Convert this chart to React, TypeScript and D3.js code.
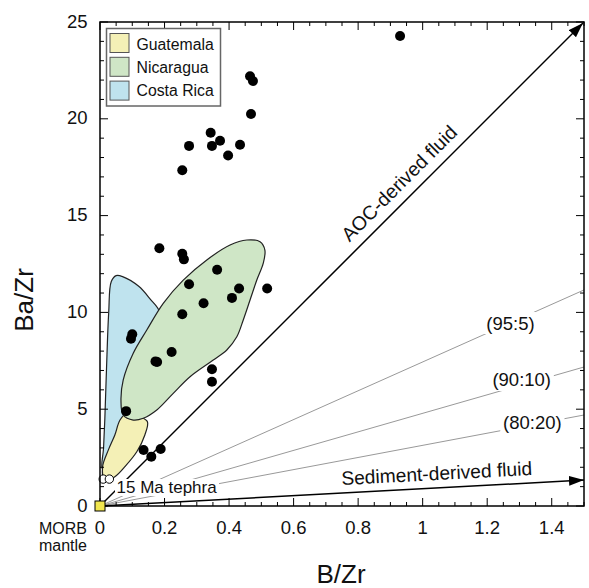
import React from "react";
import * as d3 from "d3";

// Ba/Zr vs B/Zr for arc lavas with field outlines and fluid end-member vectors
const xTickValues = [0, 0.2, 0.4, 0.6, 0.8, 1, 1.2, 1.4];
const yTickValues = [0, 5, 10, 15, 20, 25];

const samples: [number, number][] = [
  [0.93, 24.28], [0.465, 22.2], [0.474, 21.95], [0.468, 20.25],
  [0.343, 19.28], [0.372, 18.87], [0.276, 18.6], [0.347, 18.6],
  [0.434, 18.66], [0.397, 18.1], [0.255, 17.34], [0.184, 13.31],
  [0.255, 13.03], [0.26, 12.74], [0.363, 12.2], [0.276, 11.45],
  [0.431, 11.23], [0.518, 11.23], [0.409, 10.75], [0.321, 10.47],
  [0.255, 9.9], [0.1, 8.87], [0.096, 8.64], [0.222, 7.95],
  [0.172, 7.47], [0.177, 7.44], [0.347, 7.06], [0.347, 6.42],
  [0.081, 4.9], [0.135, 2.89], [0.159, 2.55], [0.188, 2.94],
];

const tephra15Ma: [number, number][] = [[0.01, 1.39], [0.029, 1.39]];

const costaRicaField: [number, number][] = [
  [0.008, 1.9], [0.011, 3.0], [0.015, 4.5], [0.02, 7.0], [0.027, 10.0],
  [0.035, 11.6], [0.05, 11.9], [0.07, 11.85], [0.12, 11.35], [0.155, 10.7],
  [0.185, 10.0], [0.17, 8.0], [0.11, 5.0], [0.06, 3.0], [0.03, 2.0],
];

const guatemalaField: [number, number][] = [
  [0.015, 1.3], [0.008, 2.03], [0.026, 2.9], [0.046, 3.67], [0.062, 4.44],
  [0.083, 4.79], [0.124, 4.61], [0.147, 4.35], [0.139, 3.67], [0.114, 2.8],
  [0.077, 2.03], [0.046, 1.51],
];

const nicaraguaField: [number, number][] = [
  [0.511, 13.22], [0.506, 12.54], [0.486, 11.67], [0.465, 10.64],
  [0.444, 9.61], [0.424, 8.74], [0.393, 8.06], [0.351, 7.54],
  [0.279, 6.68], [0.227, 5.82], [0.176, 4.96], [0.134, 4.53],
  [0.103, 4.44], [0.072, 4.7], [0.065, 5.48], [0.072, 6.51],
  [0.103, 7.89], [0.145, 9.09], [0.196, 10.47], [0.258, 11.67],
  [0.331, 12.71], [0.403, 13.48], [0.455, 13.74], [0.496, 13.65],
];

// Mixing lines from the mantle source: label, Ba/Zr reached at B/Zr = 1.5, label anchor
const mixLabels = ["(95:5)", "(90:10)", "(80:20)"];
const mixEndBaZr = [11.16, 7.18, 4.7];
const mixLabelBZr = [1.272, 1.307, 1.34];
const mixLabelBaZr = [9.45, 6.51, 4.29];

const aocEnd: [number, number] = [1.5, 25];
const sedimentEnd: [number, number] = [1.5, 1.34];

const legendNames = ["Guatemala", "Nicaragua", "Costa Rica"];
const legendColors = ["#f4f0b6", "#cfe6c6", "#bfe3ee"];

const FONT = "'Liberation Sans', Arial, Helvetica, sans-serif";

export default function App() {
  const left = 100, right = 584, top = 22, bottom = 506;
  const x = d3.scaleLinear().domain([0, 1.5]).range([left, right]);
  const y = d3.scaleLinear().domain([0, 25]).range([bottom, top]);

  const field = d3
    .line<[number, number]>()
    .x((d) => x(d[0]))
    .y((d) => y(d[1]))
    .curve(d3.curveCatmullRomClosed.alpha(0.5));

  const xMinor = d3.range(0, 1.5001, 0.05);
  const yMinor = d3.range(0, 25.001, 1);
  const isMajorX = (v: number) => Math.abs(v / 0.2 - Math.round(v / 0.2)) < 1e-6;

  const angleOf = (end: [number, number]) =>
    (Math.atan2(y(end[1]) - y(0), x(end[0]) - x(0)) * 180) / Math.PI;

  return (
    <svg
      width={589}
      height={588}
      style={{ position: "absolute", left: 0, top: 0, background: "#fff" }}
      fontFamily={FONT}
    >
      <defs>
        <marker
          id="arrow"
          markerUnits="userSpaceOnUse"
          markerWidth={16}
          markerHeight={12}
          refX={15}
          refY={5}
          orient="auto"
        >
          <path d="M0,0 L15,5 L0,10 Z" fill="#000" />
        </marker>
      </defs>

      {/* fields */}
      <path d={field(costaRicaField) ?? ""} fill={legendColors[2]} stroke="#222" strokeWidth={1.2} />
      <path d={field(guatemalaField) ?? ""} fill={legendColors[0]} stroke="#222" strokeWidth={1.2} />
      <path d={field(nicaraguaField) ?? ""} fill={legendColors[1]} stroke="#222" strokeWidth={1.2} />

      {/* mixing lines */}
      {mixEndBaZr.map((v, i) => (
        <line key={"m" + i} x1={x(0)} y1={y(0)} x2={x(1.5)} y2={y(v)} stroke="#999" strokeWidth={1} />
      ))}

      {/* fluid vectors */}
      <line
        x1={x(0)} y1={y(0)} x2={x(aocEnd[0]) - 1} y2={y(aocEnd[1]) + 1}
        stroke="#000" strokeWidth={1.5} markerEnd="url(#arrow)"
      />
      <line
        x1={x(0)} y1={y(0)} x2={x(sedimentEnd[0])} y2={y(sedimentEnd[1])}
        stroke="#000" strokeWidth={1.5} markerEnd="url(#arrow)"
      />

      {/* mixing labels over the lines */}
      {mixLabels.map((t, i) => {
        const lx = x(mixLabelBZr[i]);
        const ly = y(mixLabelBaZr[i]);
        const w = t.length * 8.6 + 4;
        return (
          <g key={"ml" + i}>
            <rect x={lx - w / 2} y={ly - 11} width={w} height={22} fill="#fff" />
            <text x={lx} y={ly + 6.5} textAnchor="middle" fontSize={18.5} fill="#111">
              {t}
            </text>
          </g>
        );
      })}

      {/* 15 Ma tephra label */}
      <rect x={115} y={479} width={104} height={17} fill="#fff" />
      <text x={116.5} y={492.7} fontSize={17} fill="#111">15 Ma tephra</text>

      {/* vector labels */}
      {(() => {
        const a = angleOf(aocEnd);
        const cx = 404, cy = 188;
        return (
          <text x={cx} y={cy} textAnchor="middle" fontSize={19.5} fill="#111"
            transform={`rotate(${a},${cx},${cy})`}>
            AOC-derived fluid
          </text>
        );
      })()}
      {(() => {
        const a = angleOf(sedimentEnd);
        const cx = 437, cy = 480;
        return (
          <text x={cx} y={cy} textAnchor="middle" fontSize={19.2} fill="#111"
            transform={`rotate(${a},${cx},${cy})`}>
            Sediment-derived fluid
          </text>
        );
      })()}

      {/* samples */}
      {samples.map((d, i) => (
        <circle key={"s" + i} cx={x(d[0])} cy={y(d[1])} r={5} fill="#000" />
      ))}
      {tephra15Ma.map((d, i) => (
        <circle key={"t" + i} cx={x(d[0])} cy={y(d[1])} r={4.2} fill="#fff" stroke="#000" strokeWidth={1} />
      ))}

      {/* frame and ticks */}
      <rect x={left} y={top} width={right - left} height={bottom - top} fill="none" stroke="#000" strokeWidth={1.5} />
      {xMinor.map((v, i) => {
        const len = isMajorX(v) ? 8 : 4;
        return (
          <g key={"xt" + i}>
            <line x1={x(v)} x2={x(v)} y1={bottom} y2={bottom - len} stroke="#000" strokeWidth={1} />
            <line x1={x(v)} x2={x(v)} y1={top} y2={top + len} stroke="#000" strokeWidth={1} />
          </g>
        );
      })}
      {yMinor.map((v, i) => {
        const len = v % 5 === 0 ? 8 : 4;
        return (
          <g key={"yt" + i}>
            <line x1={left} x2={left + len} y1={y(v)} y2={y(v)} stroke="#000" strokeWidth={1} />
            <line x1={right} x2={right - len} y1={y(v)} y2={y(v)} stroke="#000" strokeWidth={1} />
          </g>
        );
      })}

      {/* MORB mantle source */}
      <rect x={x(0) - 5} y={y(0) - 5} width={10} height={10} fill="#f1e64f" stroke="#000" strokeWidth={1} />

      {/* tick labels */}
      {xTickValues.map((v) => (
        <text key={"xl" + v} x={x(v)} y={533.5} textAnchor="middle" fontSize={18.5} fill="#111">
          {d3.format("~g")(v)}
        </text>
      ))}
      {yTickValues.map((v) => (
        <text key={"yl" + v} x={87.5} y={y(v) + 5.5} textAnchor="end" fontSize={18.5} fill="#111">
          {v}
        </text>
      ))}
      <text x={63} y={534} textAnchor="middle" fontSize={16} fill="#111">MORB</text>
      <text x={63} y={551} textAnchor="middle" fontSize={16} fill="#111">mantle</text>

      {/* axis titles */}
      <text x={341} y={583} textAnchor="middle" fontSize={26} fill="#111">B/Zr</text>
      <text x={0} y={0} textAnchor="middle" fontSize={26} fill="#111"
        transform="translate(33,300) rotate(-90)">Ba/Zr</text>

      {/* legend */}
      <rect x={106.5} y={28.5} width={114} height={77.5} fill="#fff" stroke="#666" strokeWidth={1.5} />
      {legendNames.map((n, i) => (
        <g key={"lg" + i}>
          <rect x={110} y={33.5 + i * 23.8} width={19} height={19} fill={legendColors[i]} stroke="#555" strokeWidth={1} />
          <text x={136.5} y={49.5 + i * 23.3} fontSize={15.8} fill="#111">{n}</text>
        </g>
      ))}
    </svg>
  );
}
